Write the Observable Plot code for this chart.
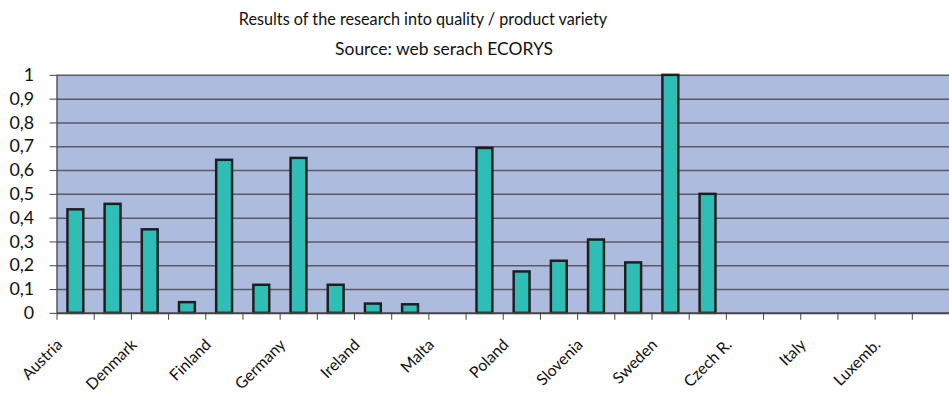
<!DOCTYPE html>
<html><head><meta charset="utf-8">
<script src="https://cdn.jsdelivr.net/npm/d3@7"></script>
<script src="https://cdn.jsdelivr.net/npm/@observablehq/plot@0.6"></script>
<style>
body{margin:0;background:#fff;overflow:hidden;width:949px;height:394px;position:relative;font-family:Lato,"DejaVu Sans",sans-serif}
.ttl{position:absolute;white-space:nowrap;font-size:18px;color:#111;line-height:1}
#chart{position:absolute;left:0;top:58px;width:949px;height:336px;overflow:hidden}
</style></head><body>
<div class="ttl" id="t1" style="left:423px;top:9px;transform:translateX(-50%) scaleX(0.9)">Results of the research into quality / product variety</div>
<div class="ttl" id="t2" style="left:444px;top:39px;transform:translateX(-50%) scaleX(0.97)">Source: web serach ECORYS</div>
<div id="chart"></div>
<script>
// Category labels (only every other category is labelled in the original)
const categoryLabels = ["Austria","","Denmark","","Finland","","Germany","","Ireland","","Malta","",
  "Poland","","Slovenia","","Sweden","","Czech R.","","Italy","","Luxemb.",""];
// Values (null = no bar)
const values = [0.435,0.458,0.351,0.045,0.643,0.118,0.651,0.118,0.039,0.036,null,0.693,
  0.174,0.219,0.308,0.212,1.0,0.5,null,null,null,null,null,null];
const yTicks = [0,0.1,0.2,0.3,0.4,0.5,0.6,0.7,0.8,0.9,1];
const yTickLabels = ["0","0,1","0,2","0,3","0,4","0,5","0,6","0,7","0,8","0,9","1"];

const data = values.map((v, i) => ({i, value: v})).filter(d => d.value != null);
const n = categoryLabels.length;
const boundaries = d3.range(n + 1);
const centers = d3.range(n).map(i => i + 0.5);

const chart = Plot.plot({
  width: 957,
  height: 336,
  marginLeft: 57,
  marginRight: 0,
  marginTop: 17,
  marginBottom: 79,
  style: {fontFamily: "Lato, 'DejaVu Sans', sans-serif", color: "#111", background: "transparent"},
  x: {type: "linear", domain: [0, n], axis: null},
  y: {domain: [0, 1], axis: null},
  marks: [
    Plot.frame({fill: "#adbcde", stroke: null}),
    Plot.ruleY(yTicks.slice(1), {stroke: "#5a5a66", strokeWidth: 1.5}),
    Plot.ruleX([0], {stroke: "#555", strokeWidth: 1.5}),
    Plot.rectY(data, {x1: d => d.i, x2: d => d.i + 1, y: "value", insetLeft: 11, insetRight: 10.5,
      fill: "#2fbeb5", stroke: "#1e1e1e", strokeWidth: 2.5}),
    Plot.ruleY([0], {stroke: "#444", strokeWidth: 2}),
    Plot.axisY(yTicks, {tickSize: 7, tickPadding: 16, fontSize: 18, stroke: "#444", label: null,
      tickFormat: d => yTickLabels[yTicks.indexOf(d)]}),
    Plot.axisX(boundaries, {tickSize: 7, stroke: "#444", label: null, tickFormat: () => ""}),
    Plot.axisX(centers, {tickSize: 0, tickRotate: -45, fontSize: 16, tickPadding: 0, dx: -16, dy: 29, label: null,
      tickFormat: d => categoryLabels[Math.round(d - 0.5)]})
  ]
});
document.getElementById("chart").appendChild(chart);
</script>
</body></html>
